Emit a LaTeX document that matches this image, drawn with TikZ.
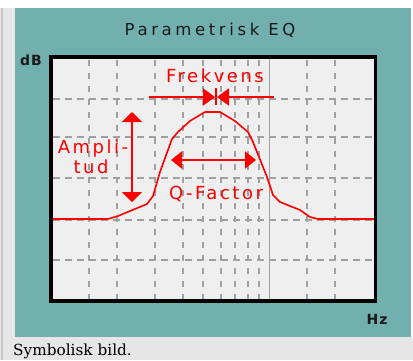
\documentclass[tikz,border=0pt]{standalone}
\usepackage{fontspec}
\setmainfont{DejaVu Sans}
\newfontfamily\lblfont[LetterSpace=14]{DejaVu Sans}
\newfontfamily\titlefont[LetterSpace=22]{DejaVu Sans}
\newfontfamily\axfont[LetterSpace=8]{DejaVu Sans}
\newfontfamily\capfont{DejaVu Serif}
\usetikzlibrary{arrows.meta}
\definecolor{tealbg}{HTML}{72AFAF}
\definecolor{stripgray}{HTML}{E6E6E6}
\definecolor{plotbg}{HTML}{EFEFEF}
\definecolor{gridgray}{HTML}{A0A0A0}
\definecolor{eqred}{HTML}{FF0000}
\definecolor{darktext}{HTML}{1A1A1A}
\begin{document}
\begin{tikzpicture}[x=1pt,y=-1pt,
  gridh/.style={gridgray, line width=1.4pt, dash pattern=on 7pt off 5pt},
  gridv/.style={gridgray, line width=1.4pt, dash pattern=on 6pt off 7pt},
  redlbl/.style={eqred, inner sep=0pt, anchor=base, font=\lblfont\fontsize{18}{20}\selectfont},
  axlbl/.style={darktext, inner sep=0pt, anchor=base, font=\axfont\bfseries\fontsize{14}{16}\selectfont},
  redarrow/.style={eqred, line width=2pt},
  curve/.style={eqred, line width=1.6pt, line join=round}]
\useasboundingbox (0,0) rectangle (413,360);
% background panels
\fill[white] (0,0) rectangle (413,360);
\fill[stripgray] (0,8) rectangle (15,360);
\fill[stripgray] (15,337) rectangle (413,360);
\fill[black!22] (1,8) rectangle (3,360);
\fill[tealbg] (15,8) rectangle (411,337);
% plot area
\fill[plotbg] (51,57) rectangle (375.5,301);
\foreach \yy in {99,137,178,220,260}
  \draw[gridh] (53,\yy) -- (372,\yy);
\foreach \xx in {89,117,155,183,203,221,235,248,259,307,335}
  \draw[gridv] (\xx,60) -- (\xx,299);
\draw[gridgray, line width=1.5pt] (269.5,59) -- (269.5,299);
% response curve
\draw[curve] (53,219) -- (108,219) -- (118,216) -- (147,204) -- (153,196)
  -- (160,172) -- (172,139) -- (178,132) -- (190,121) -- (205,112)
  -- (220,112) -- (235,121) -- (248,132) -- (253,142) -- (267,177)
  -- (273,195) -- (280,202) -- (300,210) -- (310,217) -- (318,219) -- (374,219);
% frame
\draw[black, line width=3.5pt] (51,57) rectangle (375.5,301);
% labels
\node[darktext, inner sep=0pt, anchor=base, font=\titlefont\fontsize{16.5}{18}\selectfont] (title) at (210,35) {Parametrisk EQ};
\node[axlbl] (db) at (31,65) {dB};
\node[axlbl] (hz) at (377,324) {Hz};
\node[redlbl] (frek) at (215,82) {Frekvens};
\node[redlbl] (ampl) at (93,153) {Ampli-};
\node[redlbl] (tud) at (91,173) {tud};
\node[redlbl] (qf) at (216,199) {Q-Factor};
\node[anchor=base west, inner sep=0pt, font=\capfont\fontsize{15.3}{17}\selectfont] (cap) at (13,355) {Symbolisk bild.};
% frequency arrows
\coordinate (fl) at (149,97);
\coordinate (fr) at (274,97);
\coordinate (fc1) at (215,97);
\coordinate (fc2) at (217,97);
\coordinate (ft) at (216,88);
\coordinate (fb) at (216,105);
\draw[redarrow, -{Triangle[length=12pt,width=17pt]}] (fl) -- (fc1);
\draw[redarrow, -{Triangle[length=12pt,width=17pt]}] (fr) -- (fc2);
\draw[eqred, line width=1.5pt] (ft) -- (fb);
% amplitude arrow
\coordinate (at) at (132,112);
\coordinate (ab) at (132,202);
\draw[redarrow, {Triangle[length=10pt,width=20pt]}-{Triangle[length=10pt,width=20pt]}] (at) -- (ab);
% Q-factor arrow
\coordinate (ql) at (171,160);
\coordinate (qr) at (256,160);
\draw[redarrow, {Triangle[length=11pt,width=17pt]}-{Triangle[length=11pt,width=17pt]}] (ql) -- (qr);
\end{tikzpicture}
\end{document}
